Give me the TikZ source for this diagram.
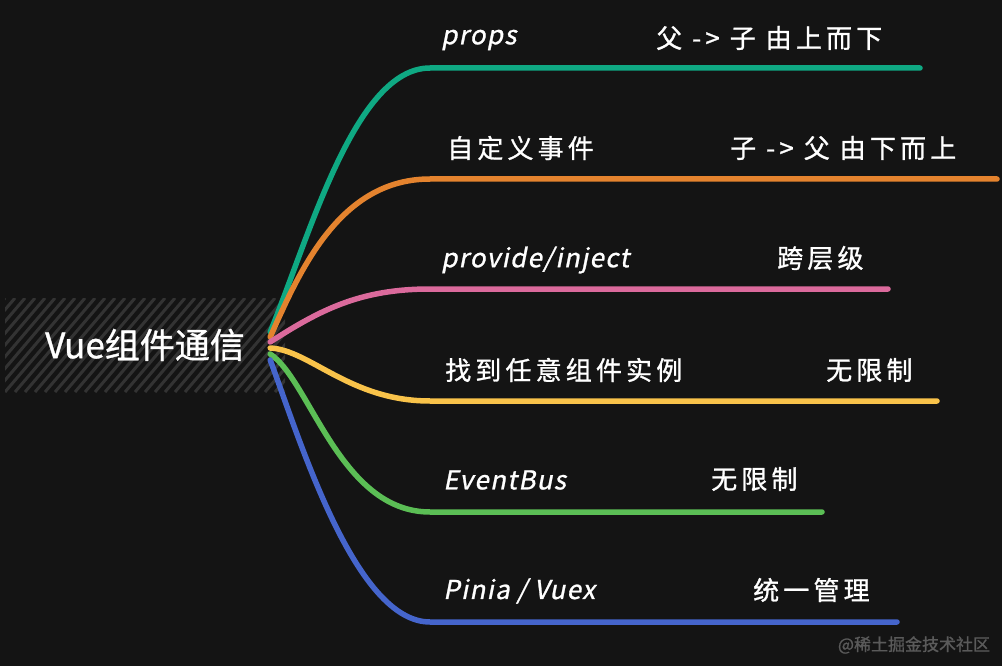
\documentclass[tikz,border=0pt]{standalone}
\usepackage{fontspec}
\setmainfont{Noto Sans CJK SC}[FakeBold=1]
\newfontfamily\slantfont{Noto Sans CJK SC}[FakeSlant=0.2,FakeBold=1,LetterSpace=5]
\newfontfamily\cjkfont{Noto Sans CJK SC}[FakeBold=1,LetterSpace=16]
\definecolor{bg}{HTML}{141414}
\definecolor{hatchgray}{HTML}{333333}
\definecolor{cteal}{HTML}{0FA983}
\definecolor{corange}{HTML}{E4832E}
\definecolor{cpink}{HTML}{DB6A9C}
\definecolor{cyellow}{HTML}{F9C34A}
\definecolor{cgreen}{HTML}{5BBE55}
\definecolor{cblue}{HTML}{4565CC}
\definecolor{brandgray}{HTML}{5A5A5A}

\begin{document}
\begin{tikzpicture}[x=1pt,y=-1pt,
  branch/.style={line width=5.5pt,line cap=round},
  lbl/.style={anchor=west,inner sep=0pt,text=white,font=\slantfont\fontsize{26}{30}\selectfont},
  note/.style={anchor=west,inner sep=0pt,text=white,font=\cjkfont\fontsize{26}{30}\selectfont},
  hatch/.style={hatchgray,line width=3pt},
  root/.style={minimum width=280pt,minimum height=94pt,inner sep=0pt,text=white,
    font=\fontsize{35}{40}\selectfont,
    path picture={\foreach \x in {-100,-90,...,290}
      \draw[hatch] ([xshift=\x pt]path picture bounding box.south west) -- ++(80,-94);}}]
\fill[bg] (0,0) rectangle (1002,666);
\useasboundingbox (0,0) rectangle (1002,666);

\node[root] (vue) at (145,345) {Vue组件通信};

% branches
\foreach \n/\dy/\ax/\ay/\bx/\ey/\ex/\col in {
  props/13/310/235/355/68/920/cteal,
  emit/8/300/270/340/179/997/corange,
  inject/3/320/310/360/289/888/cpink,
  ref/-3/310/350/350/401/937/cyellow,
  bus/-9/310/380/340/512/822/cgreen,
  store/-15/300/440/355/622/897/cblue}
  \draw[branch,\col] ([xshift=-15pt,yshift=\dy pt]vue.east)
    .. controls (\ax,\ay) and (\bx,\ey) .. (430,\ey) -- (\ex,\ey) coordinate (end-\n);

% labels
\node[lbl] (props) at (441,40) {props};
\node[note] (props-note) at (656,38) {父 -> 子 由上而下};
\node[note] (emit) at (447,148) {自定义事件};
\node[note] (emit-note) at (730,148) {子 -> 父 由下而上};
\node[lbl] (inject) at (441,260) {provide/inject};
\node[note] (inject-note) at (777,258) {跨层级};
\node[note] (ref) at (445,370) {找到任意组件实例};
\node[note] (ref-note) at (826,370) {无限制};
\node[lbl] (bus) at (443,480) {EventBus};
\node[note] (bus-note) at (711,479) {无限制};
\node[lbl] (store) at (443,591) {Pinia / Vuex};
\node[note] (store-note) at (753,590) {统一管理};

\node[text=brandgray,font=\fontsize{17}{20}\selectfont] (brand) at (914,645) {@稀土掘金技术社区};
\end{tikzpicture}
\end{document}
